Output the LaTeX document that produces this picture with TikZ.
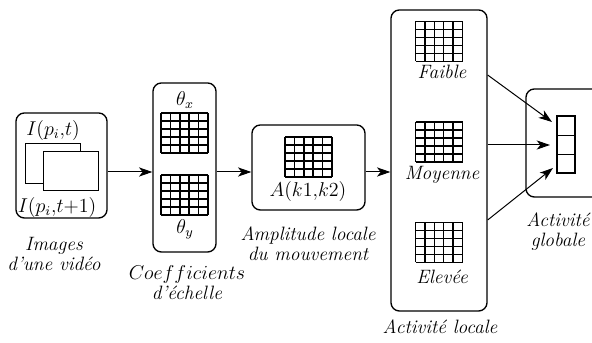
\documentclass[tikz,border=0pt]{standalone}
\usetikzlibrary{arrows.meta,calc}
\begin{document}
\begin{tikzpicture}[x=0.6pt,y=-0.6pt,
  every node/.style={font=\fontsize{11.6}{12}\selectfont},
  box/.style={draw,line width=0.8pt,rounded corners=5pt,inner sep=0pt},
  frame/.style={draw,fill=white,line width=0.6pt,inner sep=0pt},
  arr/.style={-{Stealth[length=8pt,width=5.5pt,inset=2.2pt]},line width=0.6pt},
  lbl/.style={font=\fontsize{11.6}{12}\selectfont\itshape,align=center,inner sep=0pt},
  gridpic/.pic={
    \foreach \i in {0,...,5}{
      \draw[line width=0.85pt] (-23.5+\i*9.4,-20) -- (-23.5+\i*9.4,20);
      \draw[line width=0.85pt] (-23.5,-20+\i*8) -- (23.5,-20+\i*8);}
  }]
\useasboundingbox (0,0) rectangle (592,343);
% boxes
\node[box,minimum width=91*0.6pt,minimum height=105*0.6pt] (b1) at (61.5,165.5) {};
\node[box,minimum width=63*0.6pt,minimum height=169*0.6pt] (b2) at (184.5,167.5) {};
\node[box,minimum width=113*0.6pt,minimum height=85*0.6pt] (b3) at (308.5,167.5) {};
\node[box,minimum width=96*0.6pt,minimum height=301*0.6pt] (b4) at (439,160.5) {};
\node[box,minimum width=80*0.6pt,minimum height=108*0.6pt] (b5) at (566,143) {};
% box 1 contents
\node[frame,minimum width=55*0.6pt,minimum height=40*0.6pt] (im1) at (52.5,164) {};
\node[frame,minimum width=55*0.6pt,minimum height=39*0.6pt] (im2) at (70.5,171.5) {};
\node[inner sep=0pt] (t1) at (53,131) {$I(p_i{,}t)$};
\node[inner sep=0pt] (t2) at (57,208) {$I(p_i{,}t{+}1)$};
% box 2 contents
\node[inner sep=0pt] (thx) at (185,100) {$\theta_x$};
\pic at (184.5,133) {gridpic};
\pic at (184.5,195) {gridpic};
\node[inner sep=0pt] (thy) at (185,229) {$\theta_y$};
% box 3 contents
\pic at (308.5,157) {gridpic};
\node[inner sep=0pt] (akk) at (308,192) {$A(k1{,}k2)$};
% box 4 contents
\pic at (439,41.5) {gridpic};
\pic at (439,142) {gridpic};
\pic at (439,242.5) {gridpic};
\node[lbl] (fa) at (442,72) {Faible};
\node[lbl] (mo) at (442,175) {Moyenne};
\node[lbl] (el) at (442,277) {Elevée};
% stack
\node[draw,line width=0.7pt,minimum width=18*0.6pt,minimum height=57*0.6pt,inner sep=0pt] (stk) at (566,144.5) {};
\draw[line width=0.7pt] (stk.west |- 0,135.5) -- (stk.east |- 0,135.5);
\draw[line width=0.7pt] (stk.west |- 0,154.5) -- (stk.east |- 0,154.5);
% captions
\node[lbl] (c1) at (54,254) {Images\\d'une vidéo};
\node[lbl] (c2) at (187,283) {$Coefficients$\\d'échelle};
\node[lbl] (c3) at (308,244) {Amplitude locale\\du mouvement};
\node[lbl] (c4) at (440,327) {Activité locale};
\node[lbl] (c5) at (558,232) {Activité\\globale};
% arrows
\coordinate (ay) at (0,172);
\draw[arr] (b1.east |- ay) -- (b2.west |- ay);
\draw[arr] (b2.east |- ay) -- (b3.west |- ay);
\draw[arr] (b3.east |- ay) -- (b4.west |- ay);
\coordinate (e1) at (552,122);
\coordinate (e2) at (550,145);
\coordinate (e3) at (553,168);
\draw[arr] (b4.east |- 0,75) -- (e1);
\draw[arr] (b4.east |- 0,145) -- (e2);
\draw[arr] (b4.east |- 0,220) -- (e3);
\end{tikzpicture}
\end{document}
